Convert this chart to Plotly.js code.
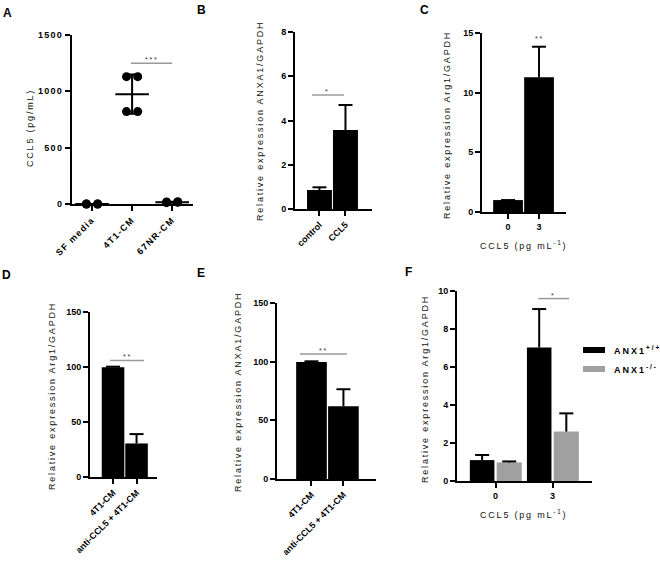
<!DOCTYPE html>
<html><head><meta charset="utf-8">
<script src="https://cdn.plot.ly/plotly-3.0.1.min.js"></script>
<style>
body{margin:0;background:#fff}
#chart{width:660px;height:567px}
.xtick text,.ytick text{letter-spacing:1.3px}
.annotation-text{letter-spacing:1.8px}
.legendtext{letter-spacing:2px}
</style></head><body><div id="chart"></div><script>
// ---- Panel A: CCL5 secretion (individual points, mean, SD)
const A_categories = ['SF media', '4T1-CM', '67NR-CM'];
const A_sfMedia = [0, 0, 0, 0];
const A_4t1CM = [1130, 1130, 820, 820];
const A_67nrCM = [12, 15, 18, 20];
const A_mean = [0, 975, 16];
const A_sd = [0, 175, 4];
// ---- Panel B
const B_categories = ['control', 'CCL5'];
const B_values = [0.86, 3.57];
const B_errors = [0.12, 1.13];
// ---- Panel C
const C_categories = ['0', '3'];
const C_values = [1.0, 11.3];
const C_errors = [0, 2.55];
// ---- Panel D
const D_categories = ['4T1-CM', 'anti-CCL5 + 4T1-CM'];
const D_values = [99.8, 30.5];
const D_errors = [0.5, 8.5];
// ---- Panel E
const E_categories = ['4T1-CM', 'anti-CCL5 + 4T1-CM'];
const E_values = [99.8, 62];
const E_errors = [0.5, 14.5];
// ---- Panel F
const F_categories = ['0', '3'];
const F_wt = [1.1, 7.03];
const F_wtErr = [0.27, 2.02];
const F_ko = [0.98, 2.6];
const F_koErr = [0.05, 0.96];
const F_names = ['ANX1<sup>+/+</sup>', 'ANX1<sup>-/-</sup>'];
// significance brackets
const sigPanels = ['A', 'B', 'D', 'E', 'F'];
const sigFrom = [0.97, -0.29, -0.13, -0.36, 0.75];
const sigTo = [2.0, 0.94, 1.32, 1.11, 1.29];
const sigY = [1250, 5.15, 106, 106.5, 9.6];
const sigLabels = ['***', '*', '**', '**', '*'];
const C_star = {x: 1, y: 14.5, text: '**'};

const W = 660, H = 567;
const px = v => v / W, py = v => 1 - v / H;
const FONT = 'Liberation Sans, Arial, sans-serif';
const tickfont = {family: FONT, size: 9, weight: 'bold', color: '#000'};

function axY(top, bottom, range, dtick, anchor) {
  return {domain: [py(bottom), py(top)], range: range, dtick: dtick, tick0: 0, anchor: anchor,
    showline: true, linewidth: 2, linecolor: '#000', ticks: 'outside', ticklen: 5, tickwidth: 2,
    tickcolor: '#000', showgrid: false, zeroline: false, tickfont: tickfont, fixedrange: true};
}
function axX(left, right, range, cats, anchor, angle) {
  return {domain: [px(left), px(right)], range: range, anchor: anchor, tickmode: 'array',
    tickvals: cats.map((c, i) => i), ticktext: cats, tickangle: angle,
    showline: true, linewidth: 2, linecolor: '#000', ticks: 'outside', ticklen: 5, tickwidth: 2,
    tickcolor: '#000', showgrid: false, zeroline: false, tickfont: tickfont, fixedrange: true};
}

const jitter = [-0.14, 0.14, -0.14, 0.14];
const traces = [];
[A_sfMedia, A_4t1CM, A_67nrCM].forEach((vals, gi) => {
  traces.push({type: 'scatter', mode: 'markers', xaxis: 'x', yaxis: 'y', showlegend: false,
    x: vals.map((v, k) => gi + jitter[k]), y: vals, cliponaxis: false,
    marker: {color: '#000', size: 9}});
});
traces.push({type: 'scatter', mode: 'markers', xaxis: 'x', yaxis: 'y', showlegend: false,
  x: A_categories.map((c, i) => i), y: A_mean, cliponaxis: false,
  marker: {symbol: 'line-ew', size: 24, line: {width: 2, color: '#000'}},
  error_y: {type: 'data', array: A_sd, color: '#000', thickness: 2, width: 6}});

// bar + upward-only error whisker (whisker drawn from cap down to bar top)
function addBars(xa, ya, cats, vals, errs, color, width, offset, name, show) {
  const off = offset === undefined ? -width / 2 : offset;
  traces.push({type: 'bar', xaxis: xa, yaxis: ya, x: cats.map((c, i) => i), y: vals,
    width: width, offset: off, marker: {color: color, line: {width: 0}},
    name: name || '', showlegend: !!show});
  traces.push({type: 'scatter', mode: 'markers', xaxis: xa, yaxis: ya, showlegend: false, cliponaxis: false,
    x: cats.map((c, i) => i + off + width / 2), y: vals.map((v, i) => v + errs[i]),
    marker: {symbol: 'line-ew', size: 10, line: {width: 2, color: '#000'}},
    error_y: {type: 'data', symmetric: false, array: errs.map(() => 0), arrayminus: errs,
      color: '#000', thickness: 2, width: 0}});
}
addBars('x2', 'y2', B_categories, B_values, B_errors, '#000', 0.96);
addBars('x3', 'y3', C_categories, C_values, C_errors, '#000', 0.96);
addBars('x4', 'y4', D_categories, D_values, D_errors, '#000', 0.96);
addBars('x5', 'y5', E_categories, E_values, E_errors, '#000', 0.96);
addBars('x6', 'y6', F_categories, F_wt, F_wtErr, '#000', 0.43, -0.45, F_names[0], true);
addBars('x6', 'y6', F_categories, F_ko, F_koErr, '#a0a0a0', 0.44, 0.02, F_names[1], true);

const axMap = {A: ['x', 'y'], B: ['x2', 'y2'], C: ['x3', 'y3'], D: ['x4', 'y4'], E: ['x5', 'y5'], F: ['x6', 'y6']};
const shapes = [], annotations = [];
sigPanels.forEach((p, i) => {
  const [xa, ya] = axMap[p];
  shapes.push({type: 'line', xref: xa, yref: ya, x0: sigFrom[i], x1: sigTo[i], y0: sigY[i], y1: sigY[i],
    line: {color: '#9a9a9a', width: 1.5}});
  annotations.push({xref: xa, yref: ya, x: (sigFrom[i] + sigTo[i]) / 2, y: sigY[i], text: sigLabels[i],
    showarrow: false, yanchor: 'bottom', yshift: -2, font: {family: FONT, size: 7, color: '#333'}});
});
annotations.push({xref: 'x3', yref: 'y3', x: C_star.x, y: C_star.y, text: C_star.text, showarrow: false,
  font: {family: FONT, size: 7, color: '#333'}});

const titleFont = {family: FONT, size: 9, color: '#111'};
function ytitle(text, x, y) {
  annotations.push({xref: 'paper', yref: 'paper', x: px(x), y: py(y), text: text, textangle: -90,
    showarrow: false, xanchor: 'center', yanchor: 'middle', font: titleFont});
}
ytitle('CCL5 (pg/mL)', 30, 128);
ytitle('Relative expression ANXA1/GAPDH', 260, 121);
ytitle('Relative expression Arg1/GAPDH', 447, 125);
ytitle('Relative expression Arg1/GAPDH', 52, 396);
ytitle('Relative expression ANXA1/GAPDH', 238, 392);
ytitle('Relative expression Arg1/GAPDH', 425, 389);
[[523, 245], [523, 514]].forEach(([x, y]) => annotations.push({xref: 'paper', yref: 'paper', x: px(x), y: py(y),
  text: 'CCL5 (pg mL<sup>-1</sup>)', showarrow: false, xanchor: 'center', yanchor: 'middle', font: titleFont}));
[['A', 8, 13], ['B', 202, 10], ['C', 425, 10], ['D', 7, 275], ['E', 202, 273], ['F', 409, 272]].forEach(([t, x, y]) =>
  annotations.push({xref: 'paper', yref: 'paper', x: px(x), y: py(y), text: '<b>' + t + '</b>', showarrow: false,
    xanchor: 'center', yanchor: 'middle', font: {family: FONT, size: 12, color: '#000'}}));

const layout = {
  width: W, height: H, margin: {l: 0, r: 0, t: 0, b: 0, autoexpand: false}, paper_bgcolor: '#fff', plot_bgcolor: 'rgba(0,0,0,0)',
  showlegend: true,
  legend: {x: px(575), y: py(338), xanchor: 'left', yanchor: 'top', bgcolor: 'rgba(0,0,0,0)',
    font: {family: FONT, size: 9, weight: 'bold', color: '#000'}, tracegroupgap: 0, traceorder: 'normal'},
  xaxis: axX(72, 193, [-0.5, 2.52], A_categories, 'y', -45),
  yaxis: axY(35, 204, [0, 1500], 500, 'x'),
  xaxis2: axX(295, 372, [-0.94, 2.02], B_categories, 'y2', -45),
  yaxis2: axY(32, 209, [0, 8], 2, 'x2'),
  xaxis3: axX(482, 566, [-0.84, 1.87], C_categories, 'y3', 0),
  yaxis3: axY(33, 212, [0, 15], 5, 'x3'),
  xaxis4: axX(90, 157, [-0.98, 1.87], D_categories, 'y4', -45),
  yaxis4: axY(312, 477, [0, 150], 50, 'x4'),
  xaxis5: axX(277, 376, [-1.08, 2.02], E_categories, 'y5', -45),
  yaxis5: axY(303, 479, [0, 150], 50, 'x5'),
  xaxis6: axX(457, 592, [-0.675, 1.69], F_categories, 'y6', 0),
  yaxis6: axY(291, 481, [0, 10], 2, 'x6'),
  shapes: shapes, annotations: annotations
};
Plotly.newPlot('chart', traces, layout, {staticPlot: true, displayModeBar: false}).then(() => {
  const paths = document.querySelectorAll('.legend .legendpoints path');
  paths.forEach(p => p.setAttribute('d', 'M-11,3H11V-3H-11Z'));
  // align the legend swatch with the reference position
  const leg = document.querySelector('g.legend');
  if (leg && paths.length) {
    const r = paths[0].getBoundingClientRect();
    const m = /translate\(([-\d.]+)[ ,]+([-\d.]+)\)/.exec(leg.getAttribute('transform') || '');
    if (m) {
      const dx = 583 - r.left, dy = 347 - r.top;
      leg.setAttribute('transform', 'translate(' + (parseFloat(m[1]) + dx) + ',' + (parseFloat(m[2]) + dy) + ')');
    }
  }
});
</script></body></html>
